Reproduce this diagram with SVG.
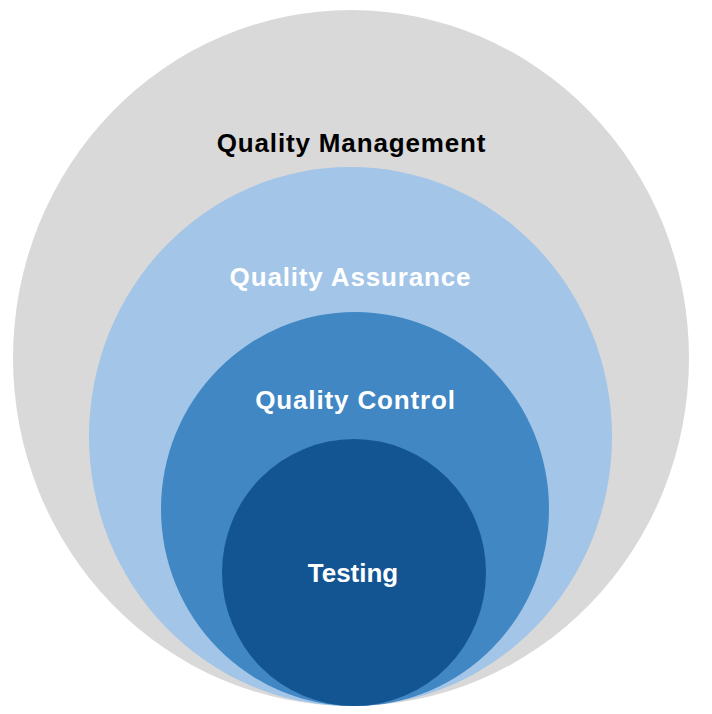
<svg xmlns="http://www.w3.org/2000/svg" width="712" height="714" viewBox="0 0 712 714">
<style>
.t{font-family:"Liberation Sans",Arial,sans-serif;font-weight:bold;font-size:26px;text-anchor:middle}
.w{letter-spacing:0.85px}
</style>
<rect width="712" height="714" fill="#ffffff"/>
<g id="quality-management">
<ellipse cx="351" cy="358" rx="338" ry="348" fill="#D9D9D9"/>
<text class="t w" x="351.5" y="152" fill="#000000">Quality Management</text>
</g>
<g id="quality-assurance">
<ellipse cx="350.5" cy="436.5" rx="261.5" ry="269.5" fill="#A2C5E8"/>
<text class="t w" x="350.5" y="286" fill="#ffffff">Quality Assurance</text>
</g>
<g id="quality-control">
<ellipse cx="355" cy="509" rx="194" ry="197" fill="#4087C4"/>
<text class="t w" x="355.5" y="409" fill="#ffffff">Quality Control</text>
</g>
<g id="testing">
<ellipse cx="354" cy="572.5" rx="132" ry="133.5" fill="#135592"/>
<text class="t" x="353" y="582" fill="#ffffff">Testing</text>
</g>
<g id="connectors"></g>
</svg>
